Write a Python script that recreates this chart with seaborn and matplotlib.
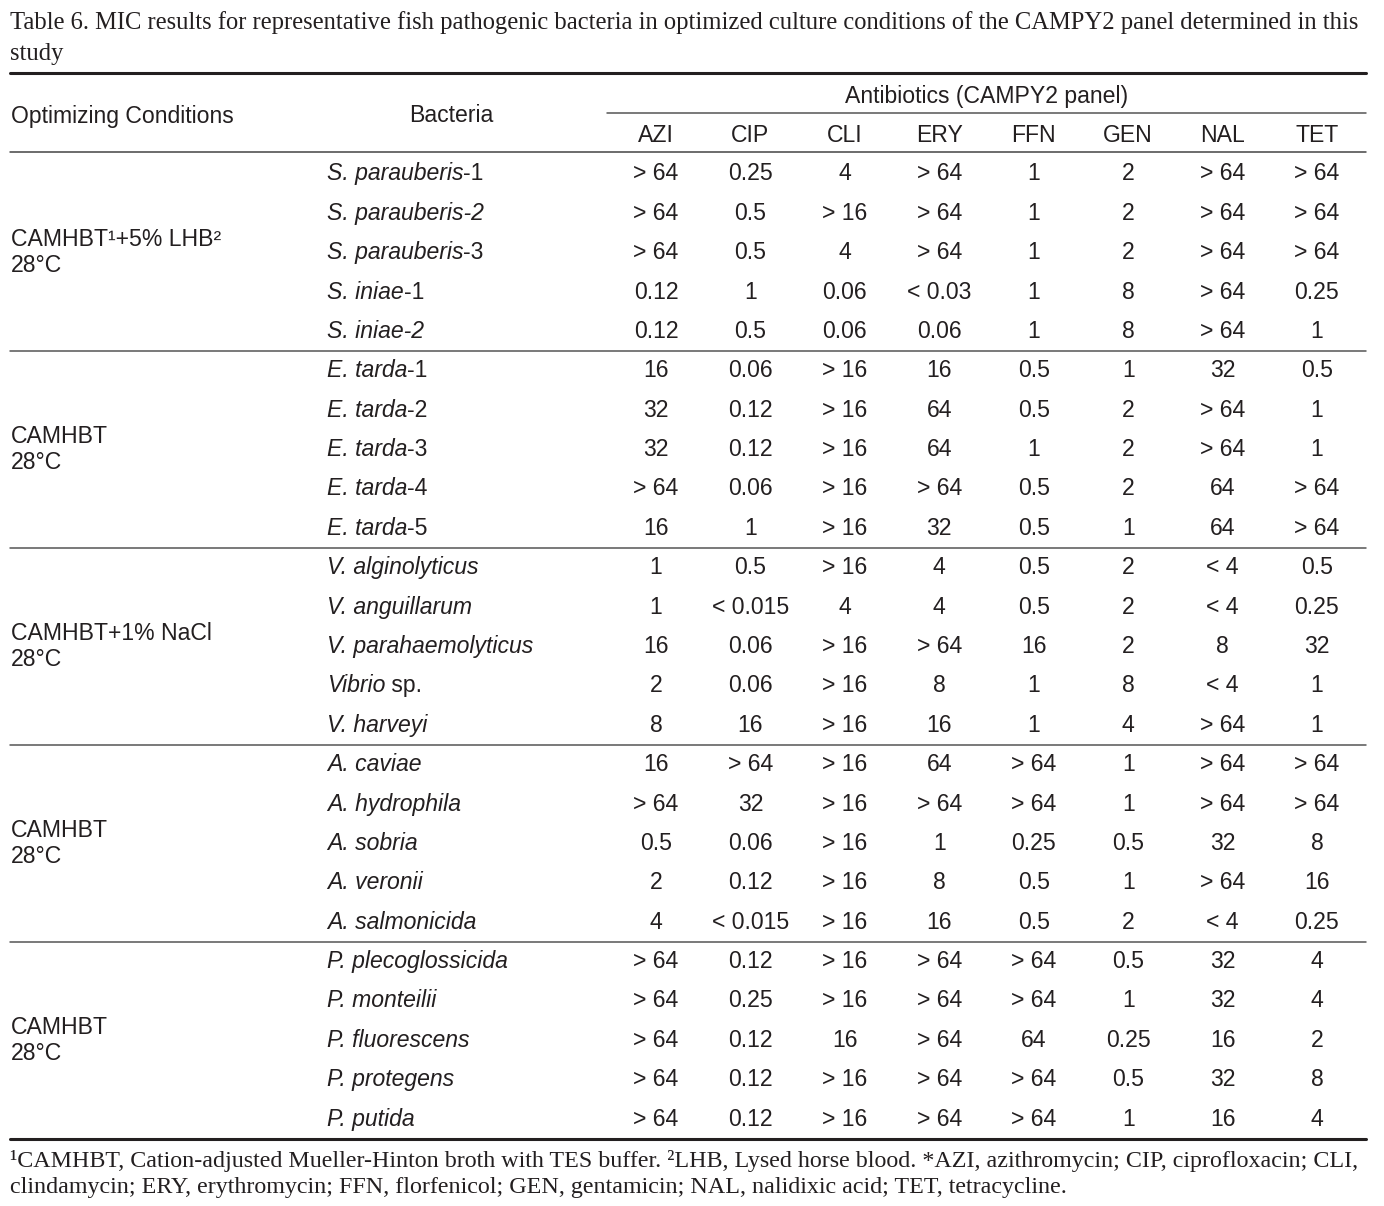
import numpy as np
import pandas as pd
import seaborn as sns
import matplotlib.pyplot as plt
from matplotlib.colors import ListedColormap

antibiotics = ['AZI', 'CIP', 'CLI', 'ERY', 'FFN', 'GEN', 'NAL', 'TET']
conditions = ['CAMHBT¹+5% LHB²\n28°C', 'CAMHBT\n28°C', 'CAMHBT+1% NaCl\n28°C',
              'CAMHBT\n28°C', 'CAMHBT\n28°C']
group_sizes = [5, 5, 5, 5, 5]

bacteria_italic = ['S. parauberis', 'S. parauberis-2', 'S. parauberis', 'S. iniae', 'S. iniae-2',
                   'E. tarda', 'E. tarda', 'E. tarda', 'E. tarda', 'E. tarda',
                   'V. alginolyticus', 'V. anguillarum', 'V. parahaemolyticus', 'Vibrio', 'V. harveyi',
                   'A. caviae', 'A. hydrophila', 'A. sobria', 'A. veronii', 'A. salmonicida',
                   'P. plecoglossicida', 'P. monteilii', 'P. fluorescens', 'P. protegens', 'P. putida']
bacteria_suffix = ['-1', '', '-3', '-1', '',
                   '-1', '-2', '-3', '-4', '-5',
                   '', '', '', ' sp.', '',
                   '', '', '', '', '',
                   '', '', '', '', '']

azi = ['> 64', '> 64', '> 64', '0.12', '0.12', '16', '32', '32', '> 64', '16',
       '1', '1', '16', '2', '8', '16', '> 64', '0.5', '2', '4',
       '> 64', '> 64', '> 64', '> 64', '> 64']
cip = ['0.25', '0.5', '0.5', '1', '0.5', '0.06', '0.12', '0.12', '0.06', '1',
       '0.5', '< 0.015', '0.06', '0.06', '16', '> 64', '32', '0.06', '0.12', '< 0.015',
       '0.12', '0.25', '0.12', '0.12', '0.12']
cli = ['4', '> 16', '4', '0.06', '0.06', '> 16', '> 16', '> 16', '> 16', '> 16',
       '> 16', '4', '> 16', '> 16', '> 16', '> 16', '> 16', '> 16', '> 16', '> 16',
       '> 16', '> 16', '16', '> 16', '> 16']
ery = ['> 64', '> 64', '> 64', '< 0.03', '0.06', '16', '64', '64', '> 64', '32',
       '4', '4', '> 64', '8', '16', '64', '> 64', '1', '8', '16',
       '> 64', '> 64', '> 64', '> 64', '> 64']
ffn = ['1', '1', '1', '1', '1', '0.5', '0.5', '1', '0.5', '0.5',
       '0.5', '0.5', '16', '1', '1', '> 64', '> 64', '0.25', '0.5', '0.5',
       '> 64', '> 64', '64', '> 64', '> 64']
gen = ['2', '2', '2', '8', '8', '1', '2', '2', '2', '1',
       '2', '2', '2', '8', '4', '1', '1', '0.5', '1', '2',
       '0.5', '1', '0.25', '0.5', '1']
nal = ['> 64', '> 64', '> 64', '> 64', '> 64', '32', '> 64', '> 64', '64', '64',
       '< 4', '< 4', '8', '< 4', '> 64', '> 64', '> 64', '32', '> 64', '< 4',
       '32', '32', '16', '32', '16']
tet = ['> 64', '> 64', '> 64', '0.25', '1', '0.5', '1', '1', '> 64', '> 64',
       '0.5', '0.25', '32', '1', '1', '> 64', '> 64', '8', '16', '0.25',
       '4', '4', '2', '8', '4']

title_lines = ['Table 6. MIC results for representative fish pathogenic bacteria in optimized culture '
               'conditions of the CAMPY2 panel determined in this',
               'study']
footnote_lines = ['¹CAMHBT, Cation-adjusted Mueller-Hinton broth with TES buffer. ²LHB, Lysed horse blood. '
                  '*AZI, azithromycin; CIP, ciprofloxacin; CLI,',
                  'clindamycin; ERY, erythromycin; FFN, florfenicol; GEN, gentamicin; NAL, nalidixic acid; '
                  'TET, tetracycline.']

mic = pd.DataFrame(dict(zip(antibiotics, [azi, cip, cli, ery, ffn, gen, nal, tet])),
                   index=[a + b for a, b in zip(bacteria_italic, bacteria_suffix)])

sns.set_theme(style='white')
sans = ['Liberation Sans', 'DejaVu Sans']
serif = ['Liberation Serif', 'DejaVu Serif']
plt.rcParams['font.family'] = sans
ink = '#231f20'
fs = 16.6

W, H = 1384, 1206
fig = plt.figure(figsize=(W / 100, H / 100), dpi=100)
fig.patch.set_facecolor('white')

# heatmap cell grid: 8 columns x 25 rows
left, right, top, bottom = 608.8, 1364.2, 154.3, 1138.7
ax = fig.add_axes([left / W, 1 - bottom / H, (right - left) / W, (bottom - top) / H])
sns.heatmap(np.zeros(mic.shape), annot=mic.values, fmt='', cmap=ListedColormap(['white']),
            cbar=False, xticklabels=False, yticklabels=False, ax=ax,
            annot_kws=dict(fontsize=fs, color=ink))
ax.axis('off')

colw = (right - left) / 8
rowh = (bottom - top) / 25
def dx(px):
    return (px - left) / colw
def dy(py):
    return (py - top) / rowh

# header
ax.text(4, dy(97), 'Antibiotics (CAMPY2 panel)', ha='center', va='center', fontsize=fs, color=ink)
for j, name in enumerate(antibiotics):
    ax.text(j + 0.5, dy(135), name, ha='center', va='center', fontsize=fs, color=ink)
ax.text(dx(11), dy(116), 'Optimizing Conditions', ha='left', va='center', fontsize=fs, color=ink)
ax.text(dx(451), dy(116), 'Bacteria', ha='center', va='center', fontsize=fs, color=ink)

# bacteria names
for i, (it, suf) in enumerate(zip(bacteria_italic, bacteria_suffix)):
    t = ax.text(dx(327), i + 0.5, it, ha='left', va='center', fontsize=fs, color=ink, style='italic')
    if suf:
        ax.annotate(suf, xy=(1, 0), xycoords=t, ha='left', va='bottom', fontsize=fs, color=ink)

# condition groups
start = 0
for cond, n in zip(conditions, group_sizes):
    ax.text(dx(11), start + n / 2, cond, ha='left', va='center', fontsize=fs, color=ink,
            linespacing=1.15)
    start += n

# rules
x0, x1 = dx(10), dx(1366)
ax.plot([x0, x1], [dy(73), dy(73)], color=ink, lw=2.2, clip_on=False)
ax.plot([dx(607), x1], [dy(113), dy(113)], color='#555555', lw=1.1, clip_on=False)
ax.plot([x0, x1], [dy(152), dy(152)], color='#444444', lw=1.1, clip_on=False)
for b in np.cumsum(group_sizes)[:-1]:
    ax.plot([x0, x1], [b, b], color='#555555', lw=1.1, clip_on=False)
ax.plot([x0, x1], [25, 25], color=ink, lw=2.2, clip_on=False)

# title and footnote in serif, first lines fitted to the full table width
renderer = fig.canvas.get_renderer()
def fitted(line, base, width):
    t = fig.text(0, 0, line, fontsize=base, family=serif)
    w = t.get_window_extent(renderer).width
    t.remove()
    return base * width / w

fs_title = fitted(title_lines[0], 15, 1356)
fs_note = fitted(footnote_lines[0], 14, 1356)
fig.text(10 / W, 1 - 29 / H, title_lines[0], ha='left', va='baseline', fontsize=fs_title,
         family=serif, color=ink)
fig.text(10 / W, 1 - 60 / H, title_lines[1], ha='left', va='baseline', fontsize=fs_title,
         family=serif, color=ink)
fig.text(10 / W, 1 - 1167 / H, footnote_lines[0], ha='left', va='baseline', fontsize=fs_note,
         family=serif, color=ink)
fig.text(10 / W, 1 - 1193 / H, footnote_lines[1], ha='left', va='baseline', fontsize=fs_note,
         family=serif, color=ink)

fig.savefig('out.png', dpi=100, facecolor='white')
